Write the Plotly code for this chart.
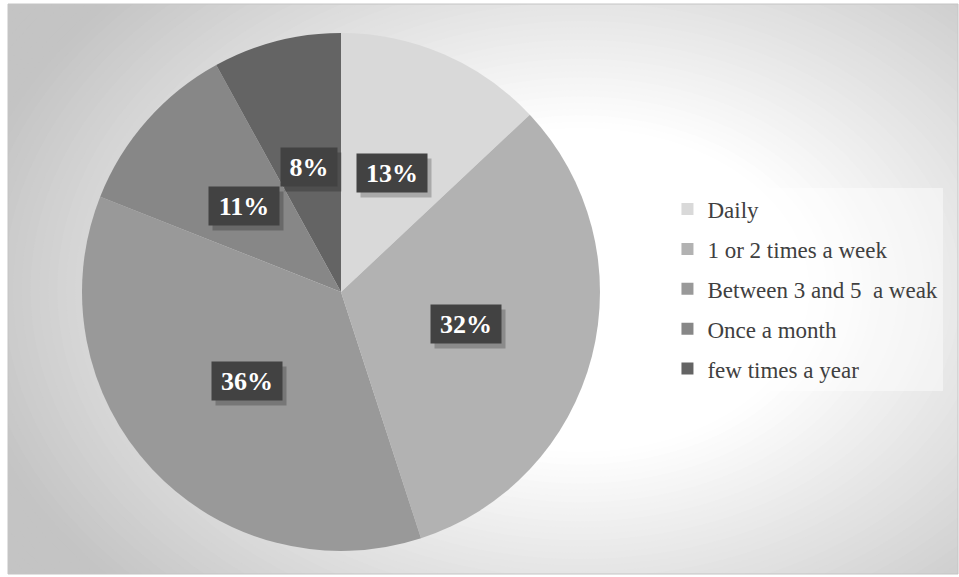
import math
import plotly.graph_objects as go

# Survey answers: how often respondents do the activity
categories = ["Daily", "1 or 2 times a week", "Between 3 and 5\u00a0 a weak",
              "Once a month", "few times a year"]
shares = [13, 32, 36, 11, 8]
slice_colors = ["#d9d9d9", "#b2b2b2", "#999999", "#878787", "#646464"]

W, H = 959, 577
CX, CY, R = 341, 292, 259          # pie centre and radius in pixels
SERIF = "'Liberation Serif', 'Times New Roman', Times, serif"

fig = go.Figure()

# --- background: soft radial grey gradient inside a thin frame -------------
FX0, FY0, FX1, FY1 = 8, 4, 958, 574
GX, GY, GRX, GRY = 580, 290, 580, 410


def grey(t):
    v = 255 - (t - 0.4) / 0.6 * 52
    v = int(round(max(196, min(255, v))))
    return f"rgb({v},{v},{v})"


def px(x):
    return x / W


def py(y):
    return 1 - y / H


shapes = [dict(type="rect", xref="paper", yref="paper", layer="below",
               x0=px(FX0), x1=px(FX1), y0=py(FY1), y1=py(FY0),
               fillcolor=grey(1.3), line=dict(width=0))]
levels = 60
for k in range(levels + 1):
    t = 1.3 - k * (1.3 - 0.38) / levels
    shapes.append(dict(type="circle", xref="paper", yref="paper", layer="below",
                       x0=px(GX - GRX * t), x1=px(GX + GRX * t),
                       y0=py(GY + GRY * t), y1=py(GY - GRY * t),
                       fillcolor=grey(t), line=dict(width=0)))
# white margins outside the frame
for (a, b, c, d) in [(0, 0, FX0, H), (0, 0, W, FY0), (0, FY1, W, H), (FX1, 0, W, H)]:
    shapes.append(dict(type="rect", xref="paper", yref="paper", layer="below",
                       x0=px(a), x1=px(c), y0=py(d), y1=py(b),
                       fillcolor="white", line=dict(width=0)))
shapes.append(dict(type="rect", xref="paper", yref="paper", layer="below",
                   x0=px(FX0), x1=px(FX1), y0=py(FY1), y1=py(FY0),
                   fillcolor="rgba(0,0,0,0)", line=dict(width=1, color="#c4c4c4")))

# --- pie ------------------------------------------------------------------
fig.add_trace(go.Pie(
    labels=categories, values=shares, sort=False, direction="clockwise",
    rotation=0, textinfo="none", hoverinfo="label+percent",
    marker=dict(colors=slice_colors, line=dict(width=0)),
    domain=dict(x=[(CX - R) / W, (CX + R) / W], y=[1 - (CY + R) / H, 1 - (CY - R) / H]),
    showlegend=False,
))

# legend entries, one group per category so the rows can be spaced out
for cat, col in zip(categories, slice_colors):
    fig.add_trace(go.Scatter(
        x=[None], y=[None], mode="markers", name=cat, legendgroup=cat,
        marker=dict(symbol="square", size=12, color=col),
        hoverinfo="skip",
    ))

# --- percentage labels in dark boxes at half radius -------------------------
annotations = []
total = sum(shares)
cum = 0
for v in shares:
    mid = (cum + v / 2) / total * 2 * math.pi
    cum += v
    lx = CX + 0.5 * R * math.sin(mid)
    ly = CY - 0.5 * R * math.cos(mid)
    text = f"{v}%"
    bw = 14 * len(text) + 28
    # drop shadow behind the box
    annotations.append(dict(
        x=px(lx), y=py(ly), xref="paper", yref="paper", showarrow=False,
        xanchor="center", yanchor="middle", text="\u00a0", xshift=4, yshift=-5,
        width=bw, height=38, borderpad=0,
        bgcolor="rgba(0,0,0,0.22)"))
    annotations.append(dict(
        x=px(lx), y=py(ly), xref="paper", yref="paper", showarrow=False,
        xanchor="center", yanchor="middle", text=f"<b>{text}</b>",
        width=bw, height=38, borderpad=0, valign="middle",
        font=dict(family=SERIF, size=26, color="white"), bgcolor="#424242"))

fig.update_layout(
    width=W, height=H,
    margin=dict(l=0, r=0, t=0, b=0),
    paper_bgcolor="white", plot_bgcolor="rgba(0,0,0,0)",
    xaxis=dict(visible=False), yaxis=dict(visible=False),
    shapes=shapes, annotations=annotations,
    font=dict(family=SERIF),
    legend=dict(
        x=0.696, y=0.675, xanchor="left", yanchor="top",
        bgcolor="rgba(255,255,255,0.45)", borderwidth=0,
        font=dict(family=SERIF, size=23, color="#404040"),
        tracegroupgap=7, itemclick=False, itemdoubleclick=False,
        itemwidth=30,
    ),
)

fig.write_html("out.html")
